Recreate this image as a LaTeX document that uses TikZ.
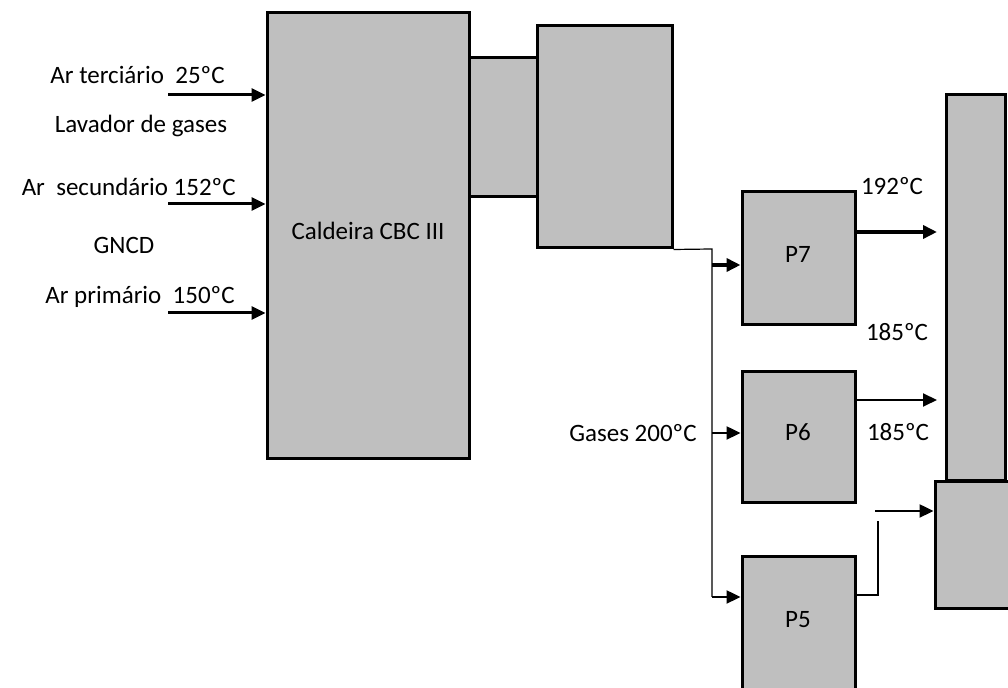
\documentclass[tikz,border=0pt]{standalone}
\usepackage{fontspec}
\setmainfont{Carlito}
\usetikzlibrary{arrows.meta,positioning}

\begin{document}
\begin{tikzpicture}[
  x=0.5pt, y=-0.5pt,
  box/.style={draw, line width=1.5pt, fill=gray!50, inner sep=0pt, font=\fontsize{12.5}{14}\selectfont},
  txt/.style={font=\fontsize{12.5}{14}\selectfont, inner sep=0pt},
  arr/.style={-{Triangle[length=7pt,width=6.5pt]}, line width=1.5pt},
  fio/.style={line width=0.6pt}
]
\useasboundingbox (0,0) rectangle (1008,688);
\clip (0,0) rectangle (1008,688);
% caldeira e dutos
\node[box, minimum width=34pt, minimum height=69.5pt] (duto) at (503,127.5) {};
\node[box, minimum width=101pt, minimum height=223pt] (caldeira) at (368,236) {};
\node[txt] at (368,231) {Caldeira CBC III};
\node[box, minimum width=67.5pt, minimum height=111pt] (eco) at (604.5,137) {};
% precipitadores
\node[box, minimum width=56.5pt, minimum height=66.5pt] (P7) at (798.5,258.5) {};
\node[txt] at (798,254) {P7};
\node[box, minimum width=56.5pt, minimum height=65.5pt] (P6) at (798.5,437.5) {};
\node[txt] at (798,432) {P6};
\node[box, minimum width=56.5pt, minimum height=71.5pt] (P5) at (798.5,628.5) {};
\node[txt] at (798,620) {P5};
% chaminé
\node[box, minimum width=40pt, minimum height=63.5pt] (base) at (975,545.5) {};
\node[box, minimum width=29.5pt, minimum height=193pt] (torre) at (975.5,288) {};

% entradas de ar
\coordinate (a1) at (168,95);
\coordinate (a2) at (168,204);
\coordinate (a3) at (168,313);
\draw[arr] (a1) -- (a1 -| caldeira.west);
\draw[arr] (a2) -- (a2 -| caldeira.west);
\draw[arr] (a3) -- (a3 -| caldeira.west);
\node[txt, anchor=east] at (225,75) {Ar terciário\ \ 25ºC};
\node[txt] at (141,126) {Lavador de gases};
\node[txt, anchor=east] at (236,187) {Ar\ \ secundário 152ºC};
\node[txt] at (124,245) {GNCD};
\node[txt, anchor=east] at (235,297) {Ar primário\ \ 150ºC};

% gases para os precipitadores
\coordinate (b0) at (712,249);
\coordinate (b7) at (712,265);
\coordinate (b6) at (712,433);
\coordinate (b5) at (712,597);
\draw[fio] (eco.south east) -- (b0) -- (b5);
\draw[arr, line width=2pt] (b7) -- (b7 -| P7.west);
\draw[arr, line width=1.2pt] (b6) -- (b6 -| P6.west);
\draw[arr, line width=1.2pt] (b5) -- (b5 -| P5.west);
\node[txt, anchor=east] at (697,433) {Gases 200ºC};

% saídas
\coordinate (s7) at (937,232);
\coordinate (s6) at (937,400);
\coordinate (s5) at (878,595);
\coordinate (c5) at (878,521);
\coordinate (e5) at (875,511);
\draw[arr, line width=2pt] (s7 -| P7.east) -- (s7);
\draw[arr, line width=1pt] (s6 -| P6.east) -- (s6);
\draw[fio] (s5 -| P5.east) -- (s5) -- (c5);
\draw[arr, line width=1.2pt] (e5) -- (e5 -| base.west);
\node[txt] at (892,186) {192ºC};
\node[txt] at (897,332) {185ºC};
\node[txt] at (898,432) {185ºC};
\end{tikzpicture}
\end{document}
